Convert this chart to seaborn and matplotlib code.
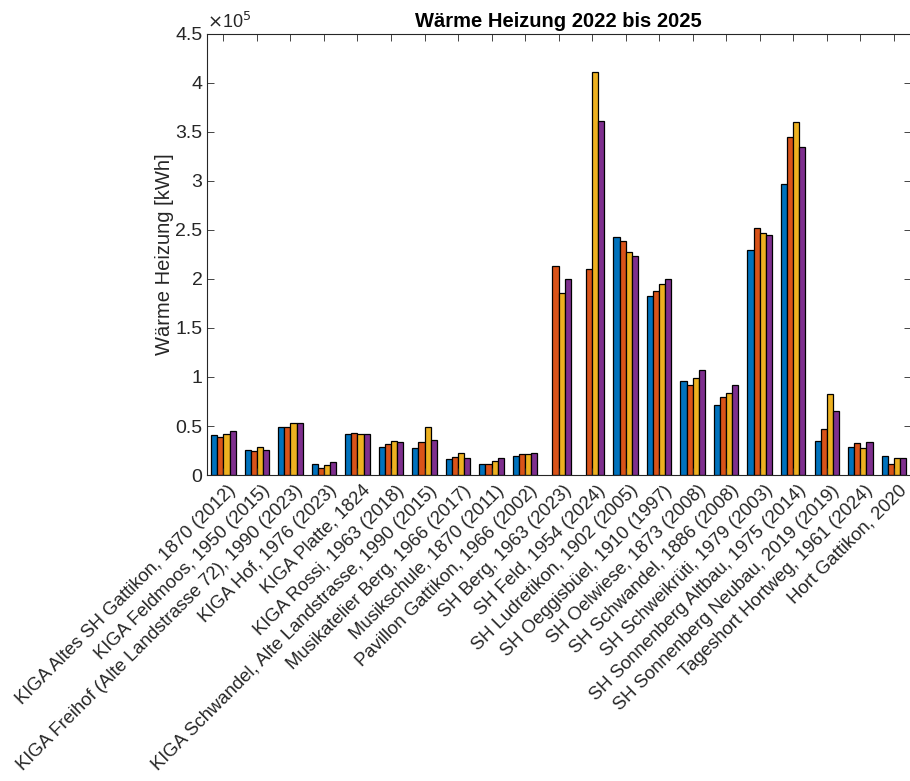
import numpy as np
import pandas as pd
import matplotlib
matplotlib.use("Agg")
import matplotlib.pyplot as plt
from matplotlib.ticker import FuncFormatter, MultipleLocator
import matplotlib.transforms as mtransforms
import seaborn as sns

# Gebäude (Baujahr, Sanierung)
objekte = [
    "KIGA Altes SH Gattikon, 1870 (2012)",
    "KIGA Feldmoos, 1950 (2015)",
    "KIGA Freihof (Alte Landstrasse 72), 1990 (2023)",
    "KIGA Hof, 1976 (2023)",
    "KIGA Platte, 1824",
    "KIGA Rossi, 1963 (2018)",
    "KIGA Schwandel, Alte Landstrasse, 1990 (2015)",
    "Musikatelier Berg, 1966 (2017)",
    "Musikschule, 1870 (2011)",
    "Pavillon Gattikon, 1966 (2002)",
    "SH Berg, 1963 (2023)",
    "SH Feld, 1954 (2024)",
    "SH Ludretikon, 1902 (2005)",
    "SH Oeggisbüel, 1910 (1997)",
    "SH Oelwiese, 1873 (2008)",
    "SH Schwandel, 1886 (2008)",
    "SH Schweikrüti, 1979 (2003)",
    "SH Sonnenberg Altbau, 1975 (2014)",
    "SH Sonnenberg Neubau, 2019 (2019)",
    "Tageshort Hortweg, 1961 (2024)",
    "Hort Gattikon, 2020",
]

jahre = ["2022", "2023", "2024", "2025"]

# Wärmeverbrauch Heizung in kWh
w2022 = [40800, 25500, 48600, 11200, 41800, 28900, 27900, 16300, 11600, 19700,
         np.nan, np.nan, 243200, 183000, 95600, 71100, 229600, 296900, 34700, 28100, 19700]
w2023 = [39100, 24100, 48600, 6800, 42900, 31300, 33700, 18400, 11600, 21100,
         213000, 209900, 238800, 187400, 91800, 79300, 252400, 344600, 46600, 32700, 11200]
w2024 = [41500, 28900, 53400, 10200, 41800, 34400, 48600, 22100, 14000, 21100,
         185400, 411200, 227200, 194600, 99000, 84000, 246900, 360200, 82700, 27900, 17000]
w2025 = [45200, 25500, 53400, 12900, 41800, 33300, 35700, 17000, 17300, 22100,
         200300, 361600, 223800, 200300, 107100, 92200, 244600, 334400, 65300, 33700, 17000]

farben = ["#0072BD", "#D95319", "#EDB120", "#7E2F8E"]

df = pd.DataFrame({
    "Objekt": objekte * 4,
    "Jahr": [j for j in jahre for _ in objekte],
    "kWh": w2022 + w2023 + w2024 + w2025,
})

plt.rcParams["font.family"] = ["Liberation Sans", "DejaVu Sans"]
axcol = "#262626"

fig = plt.figure(figsize=(9.10, 7.81), dpi=100)
ax = fig.add_axes([0.2271, 0.3918, 0.7735, 0.5647])

sns.barplot(data=df, x="Objekt", y="kWh", hue="Jahr", order=objekte,
            hue_order=jahre, palette=farben, width=0.73, saturation=1,
            edgecolor="black", linewidth=0.9, errorbar=None, legend=False, ax=ax)

ax.set_xlim(-0.5, len(objekte) - 0.5)
ax.set_ylim(0, 4.5e5)
ax.yaxis.set_major_locator(MultipleLocator(0.5e5))
ax.yaxis.set_major_formatter(FuncFormatter(lambda v, p: f"{v / 1e5:g}"))

ax.set_xticks(range(len(objekte)))
ax.set_xticklabels(objekte, rotation=45, ha="right", va="top",
                   rotation_mode="anchor")
ax.tick_params(axis="both", direction="in", top=True, right=True, length=5,
               width=0.6, color=axcol, labelcolor=axcol)
ax.tick_params(axis="x", labelsize=13.3, pad=5)
ax.tick_params(axis="y", labelsize=14, pad=3)

# nudge the slanted category labels slightly to the right
shift = mtransforms.ScaledTranslation(3 / 72, 0, fig.dpi_scale_trans)
for lbl in ax.get_xticklabels():
    lbl.set_transform(lbl.get_transform() + shift)

for s in ax.spines.values():
    s.set_visible(True)
    s.set_color(axcol)
    s.set_linewidth(0.8)

ax.set_xlabel("")
ax.set_ylabel("Wärme Heizung [kWh]", fontsize=14.5, color=axcol, labelpad=1)
ax.set_title("Wärme Heizung 2022 bis 2025", fontsize=14.5, fontweight="bold",
             color="black", pad=5)
ax.text(0.0, 1.004, r"$\times$10$^5$", transform=ax.transAxes, ha="left",
        va="bottom", fontsize=13, color=axcol)

fig.savefig("out.png", dpi=100, facecolor="white")
